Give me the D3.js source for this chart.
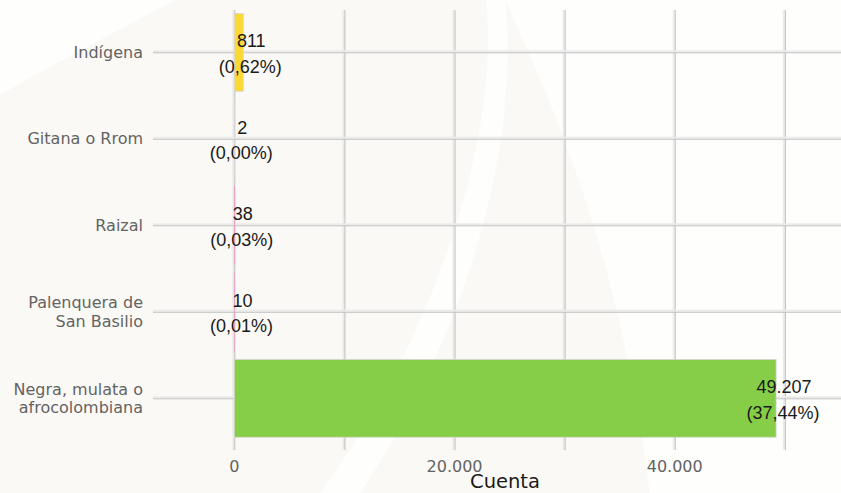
<!DOCTYPE html>
<html>
<head>
<meta charset="utf-8">
<script src="https://cdn.jsdelivr.net/npm/d3@7"></script>
<style>
  body { margin: 0; background: #fcfaf6; }
  svg { display: block; }
</style>
</head>
<body>
<svg id="chart" width="841" height="493"></svg>
<script>
// data
const categories = ["Indígena", "Gitana o Rrom", "Raizal", "Palenquera de San Basilio", "Negra, mulata o afrocolombiana"];
const categoryLines = [["Indígena"], ["Gitana o Rrom"], ["Raizal"], ["Palenquera de", "San Basilio"], ["Negra, mulata o", "afrocolombiana"]];
const counts = [811, 2, 38, 10, 49207];
const countLabels = ["811", "2", "38", "10", "49.207"];
const pctLabels = ["(0,62%)", "(0,00%)", "(0,03%)", "(0,01%)", "(37,44%)"];
const barColors = ["#fcd832", "#f4a261", "#e6a3c4", "#e6a3c4", "#86ce47"];
const majorTicks = [0, 20000, 40000];
const tickLabels = ["0", "20.000", "40.000"];
const gridTicks = [0, 10000, 20000, 30000, 40000, 50000];
const xTitle = "Cuenta";

//layout
const W = 841, H = 493;
const panel = {left: 153, right: 841, top: 10, bottom: 450};

const svg = d3.select("#chart");

//faint watermark in the background
const bg = svg.append("g").attr("class", "bg");
bg.append("rect").attr("width", W).attr("height", H).attr("fill", "#fbf9f5");
bg.append("path")
  .attr("d", "M0,0 L175,0 C120,30 60,60 0,95 Z")
  .attr("fill", "#fefefd");
bg.append("path")
  .attr("d", "M505,0 C560,120 620,260 650,493 L841,493 L841,0 Z")
  .attr("fill", "#fefefd");
bg.append("path")
  .attr("d", "M486,0 C500,130 440,330 320,493 L360,493 C470,330 520,140 505,0 Z")
  .attr("fill", "#fefefd");

//scales
const x = d3.scaleLinear()
  .domain([-7384, 55100])
  .range([panel.left, panel.right]);
const y = d3.scalePoint()
  .domain(categories)
  .range([52.3, 398.3]);
const barH = y.step() * 0.9;

//gridlines (light band + darker line)
const grid = svg.append("g").attr("class", "grid");
gridTicks.forEach(function (t) {
  grid.append("line")
    .attr("x1", x(t) - 1).attr("x2", x(t) - 1)
    .attr("y1", panel.top).attr("y2", panel.bottom)
    .attr("stroke", "#ebebeb").attr("stroke-width", 2);
  grid.append("line")
    .attr("x1", x(t) + 0.5).attr("x2", x(t) + 0.5)
    .attr("y1", panel.top).attr("y2", panel.bottom)
    .attr("stroke", "#bdbdbd").attr("stroke-width", 1);
});
categories.forEach(function (c) {
  grid.append("line")
    .attr("x1", panel.left).attr("x2", panel.right)
    .attr("y1", y(c) - 1).attr("y2", y(c) - 1)
    .attr("stroke", "#ebebeb").attr("stroke-width", 2);
  grid.append("line")
    .attr("x1", panel.left).attr("x2", panel.right)
    .attr("y1", y(c) + 0.5).attr("y2", y(c) + 0.5)
    .attr("stroke", "#c2c2c2").attr("stroke-width", 1);
});

//bars
svg.append("g").attr("class", "bars")
  .selectAll("rect")
  .data(counts)
  .join("rect")
  .attr("x", x(0))
  .attr("y", function (d, i) { return y(categories[i]) - barH / 2; })
  .attr("width", function (d) { return x(d) - x(0); })
  .attr("height", barH)
  .attr("fill", function (d, i) { return barColors[i]; })
  .attr("stroke", function (d, i) { return i === 2 || i === 3 ? barColors[i] : "#d8d8d8"; })
  .attr("stroke-width", 0.8);

//value labels
const labels = svg.append("g").attr("class", "labels")
  .style("font-family", "'Liberation Sans', Arial, sans-serif")
  .style("font-size", "18px")
  .attr("fill", "#1a1a1a")
  .attr("text-anchor", "middle");
counts.forEach(function (d, i) {
  labels.append("text")
    .attr("x", x(d) + 8)
    .attr("y", y(categories[i]) - 5)
    .text(countLabels[i]);
  labels.append("text")
    .attr("x", x(d) + 7)
    .attr("y", y(categories[i]) + 20.5)
    .text(pctLabels[i]);
});

//y axis labels, one text per line
const yAxis = svg.append("g").attr("class", "y-axis")
  .style("font-family", "'DejaVu Sans', Verdana, sans-serif")
  .style("font-size", "16px")
  .attr("fill", "#636363")
  .attr("text-anchor", "end");
const lh = 18.5;
categories.forEach(function (c, i) {
  const lines = categoryLines[i];
  lines.forEach(function (s, j) {
    yAxis.append("text")
      .attr("x", 143)
      .attr("y", y(c) + 5.5 - (lines.length - 1) * lh / 2 + j * lh)
      .text(s);
  });
});

//x axis labels
const xAxis = svg.append("g").attr("class", "x-axis")
  .style("font-family", "'DejaVu Sans', Verdana, sans-serif")
  .style("font-size", "16px")
  .attr("fill", "#636363")
  .attr("text-anchor", "middle");
majorTicks.forEach(function (t, i) {
  xAxis.append("text")
    .attr("x", x(t))
    .attr("y", 472)
    .text(tickLabels[i]);
});

svg.append("text")
  .attr("x", 505)
  .attr("y", 488)
  .attr("text-anchor", "middle")
  .style("font-family", "'DejaVu Sans', Verdana, sans-serif")
  .style("font-size", "19.5px")
  .attr("fill", "#1a1a1a")
  .text(xTitle);
</script>
</body>
</html>
